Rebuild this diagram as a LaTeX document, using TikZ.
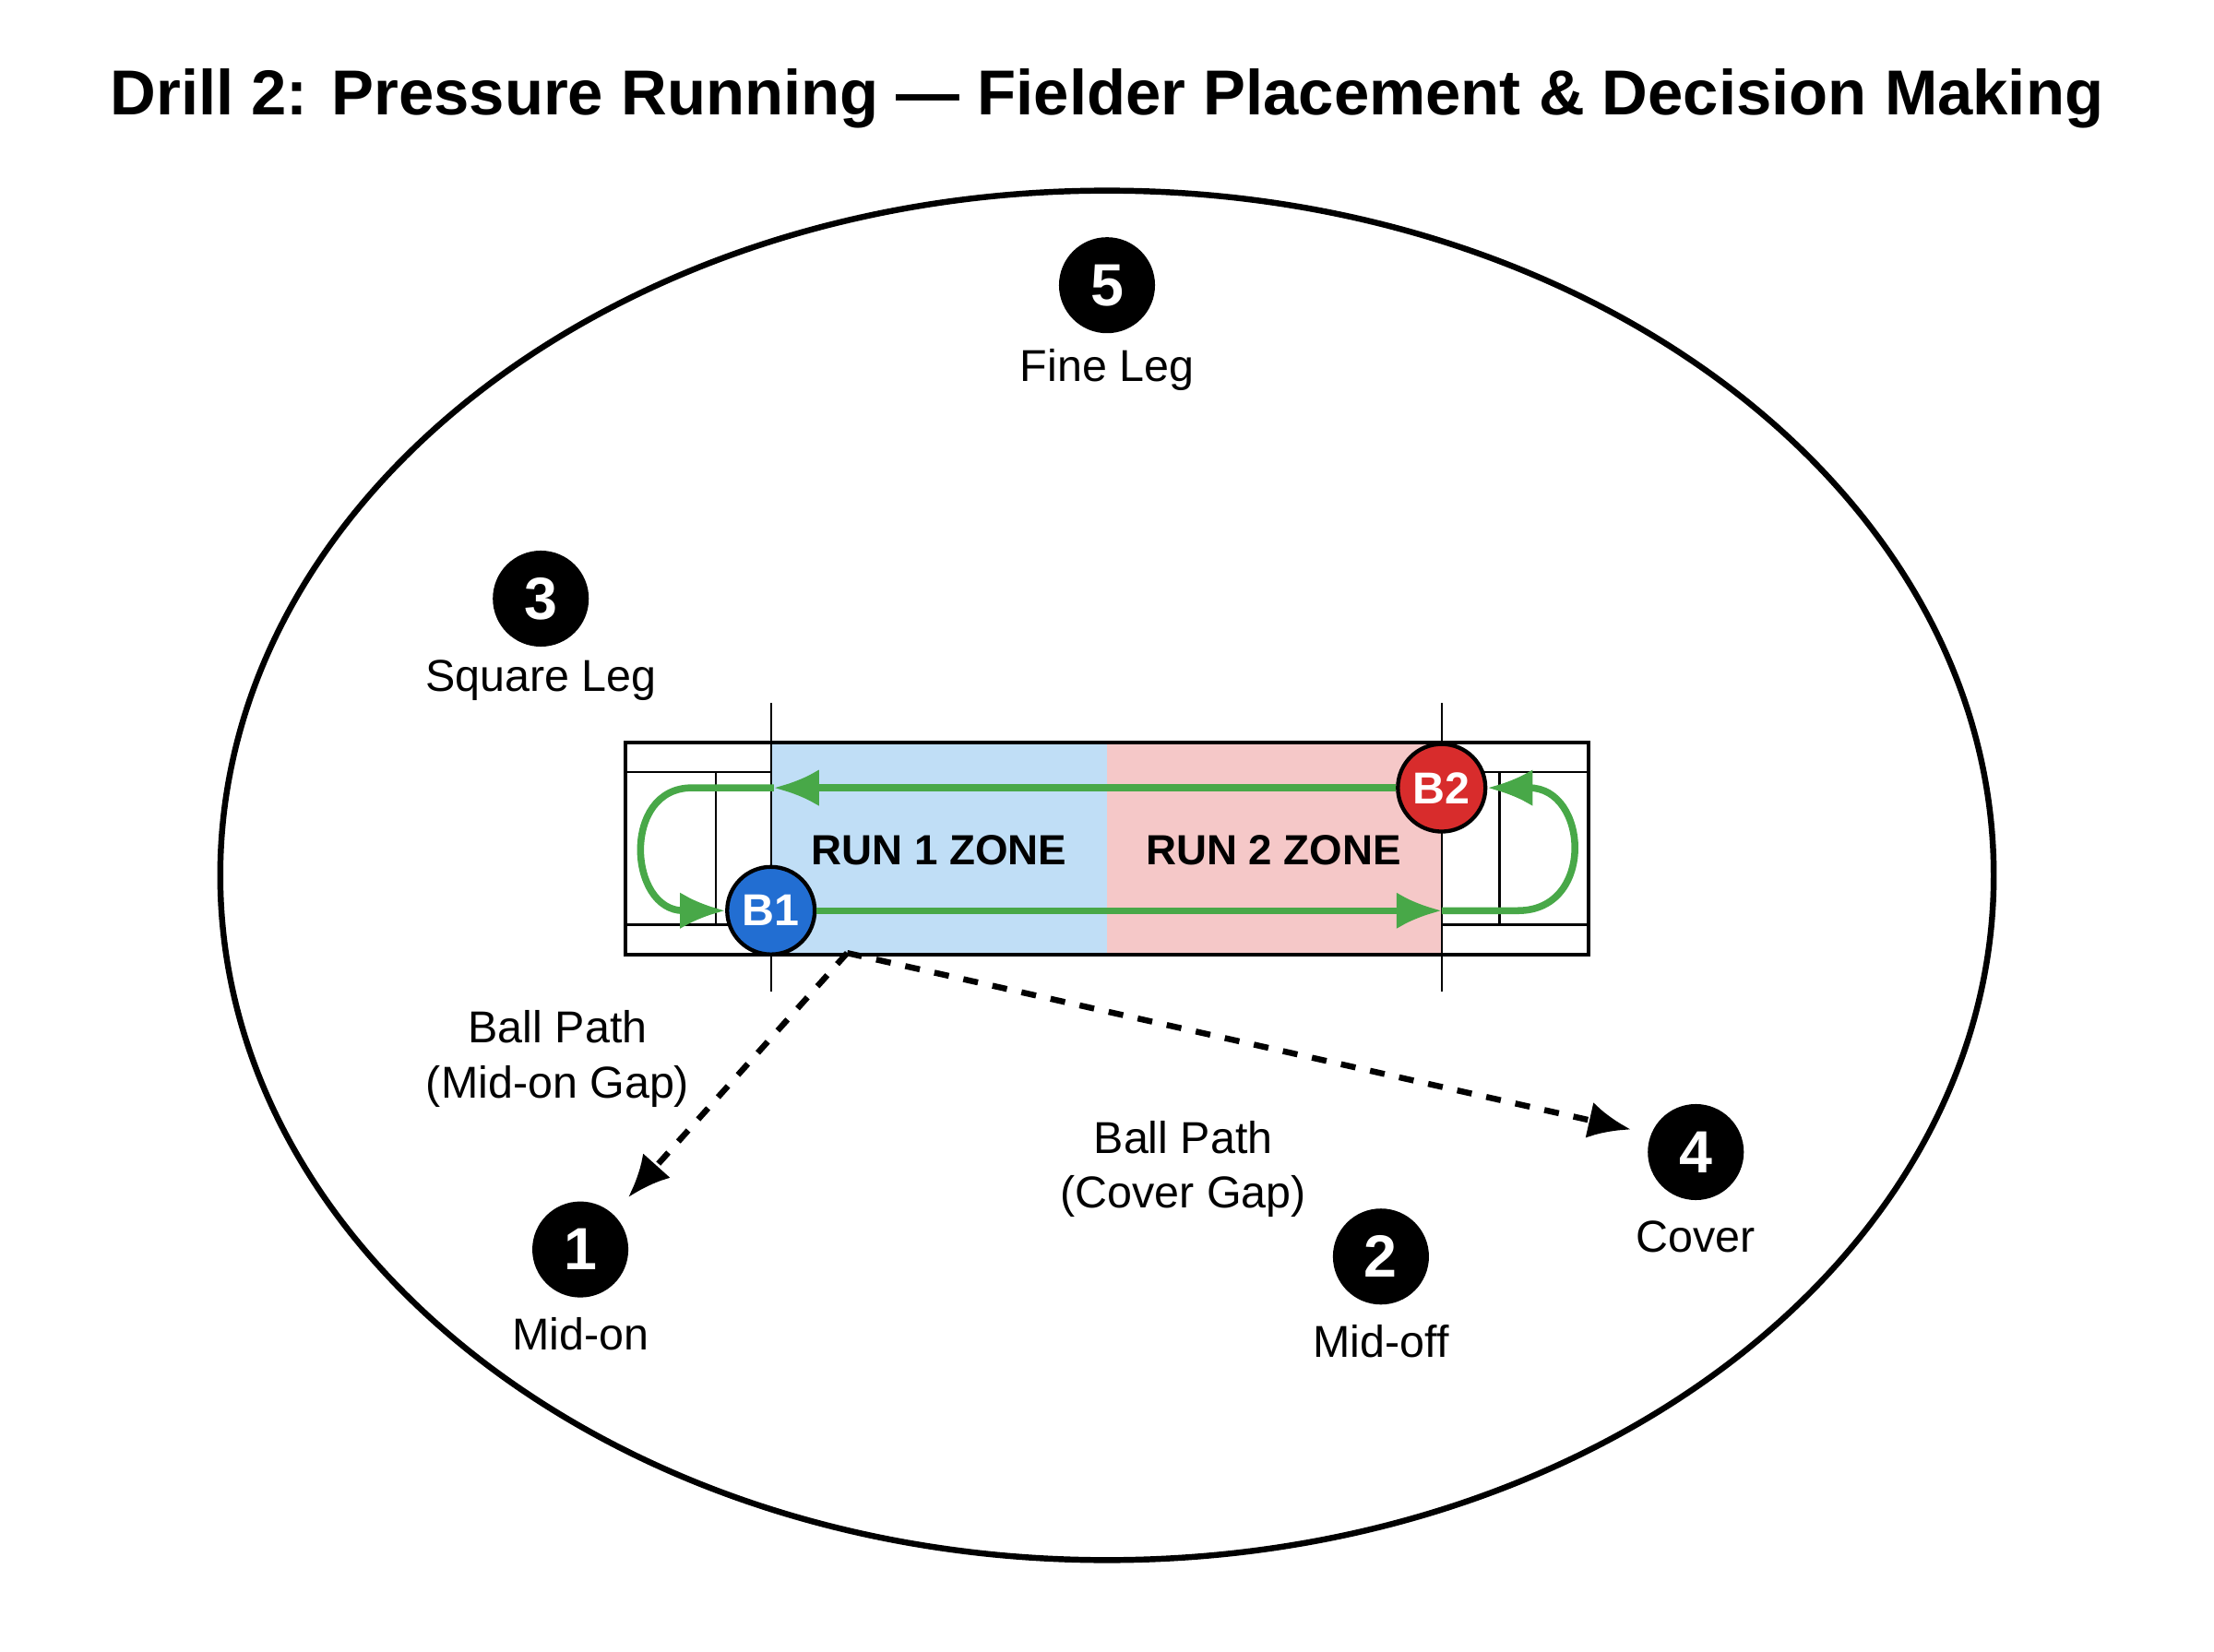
\documentclass[tikz,border=0pt]{standalone}
\usepackage{fontspec}
\setmainfont{Liberation Sans}
\usetikzlibrary{calc, arrows.meta}
\definecolor{zoneblue}{RGB}{192,222,246}
\definecolor{zonered}{RGB}{245,200,200}

\begin{document}
\begin{tikzpicture}[x=0.1mm, y=-0.1mm]
    \tikzstyle{fielder} = [circle, fill=black, text=white, font=\bfseries\fontsize{12}{14}\selectfont, minimum size=6.8mm, inner sep=0pt]
    \tikzstyle{label} = [font=\fontsize{9}{11}\selectfont, align=center]
    \tikzstyle{batter} = [circle, draw=black, thick, text=white, font=\bfseries\fontsize{9}{11}\selectfont, minimum size=6.2mm, inner sep=0pt]
    \tikzstyle{run} = [draw={rgb,255:red,72;green,168;blue,72}, line width=1.4pt, -{Latex[length=3.2mm, width=2.6mm]}]
    \tikzstyle{ball} = [draw=black, line width=1.2pt, dashed, -{Latex[length=3mm, width=2.6mm]}]

    \useasboundingbox (0,0) rectangle (1568,1170);

    % Title ----------------------------------------
    \node (title) at (784, 70) {\bfseries\fontsize{12.8}{15}\selectfont Drill 2: Pressure Running --- Fielder Placement \& Decision Making};

    % Field
    \draw[line width=1.2pt] (784, 620) ellipse (628 and 485);

    % Pitch ----------------------------------------
    \fill[zoneblue] (546, 526) rectangle (784, 676);
    \fill[zonered] (784, 526) rectangle (1021, 676);
    \draw[thick] (443, 526) rectangle (1125, 676);
    \draw (443, 547) -- (546, 547) (443, 655) -- (546, 655);
    \draw (1021, 547) -- (1125, 547) (1021, 655) -- (1125, 655);
    \draw (507, 547) -- (507, 655) (1062, 547) -- (1062, 655);
    \draw (546, 498) -- (546, 702) (1021, 498) -- (1021, 702);

    \node (zone1) at (665, 602) {\bfseries\fontsize{8.5}{10}\selectfont RUN 1 ZONE};
    \node (zone2) at (902, 602) {\bfseries\fontsize{8.5}{10}\selectfont RUN 2 ZONE};

    % Batters
    \coordinate (tl) at (548, 558);
    \coordinate (br) at (1021, 645);
    \node (B1) at (546, 645) [batter, fill={rgb,255:red,34;green,110;blue,210}] {B1};
    \node (B2) at (1021, 558) [batter, fill={rgb,255:red,216;green,44;blue,44}] {B2};

    % Running paths
    \draw[run] (B2) -- (tl);
    \draw[run] (B1) -- (br);
    \draw[run] (tl) -- (490, 558) .. controls (440, 558) and (445, 645) .. (B1);
    \draw[run] (br) -- (1075, 645) .. controls (1130, 645) and (1125, 558) .. (B2);

    % Fielders -------------------------------------
    \node (F5) at (784, 202) [fielder] {5};
    \node (L5) at (784, 262) [label] {Fine Leg};
    \node (F3) at (383, 424) [fielder] {3};
    \node (L3) at (383, 482) [label] {Square Leg};
    \node (F1) at (411, 885) [fielder] {1};
    \node (L1) at (411, 945) [label] {Mid-on};
    \node (F2) at (978, 890) [fielder] {2};
    \node (L2) at (978, 950) [label] {Mid-off};
    \node (F4) at (1201, 816) [fielder] {4};
    \node (L4) at (1201, 876) [label] {Cover};

    % Ball paths
    \coordinate (hit) at (600, 675);
    \draw[ball] (hit) -- (445, 848);
    \draw[ball] (hit) -- (1155, 800);
    \node (bp1) at (395, 750) [label] {Ball Path\\(Mid-on Gap)};
    \node (bp2) at (838, 828) [label] {Ball Path\\(Cover Gap)};
\end{tikzpicture}
\end{document}
